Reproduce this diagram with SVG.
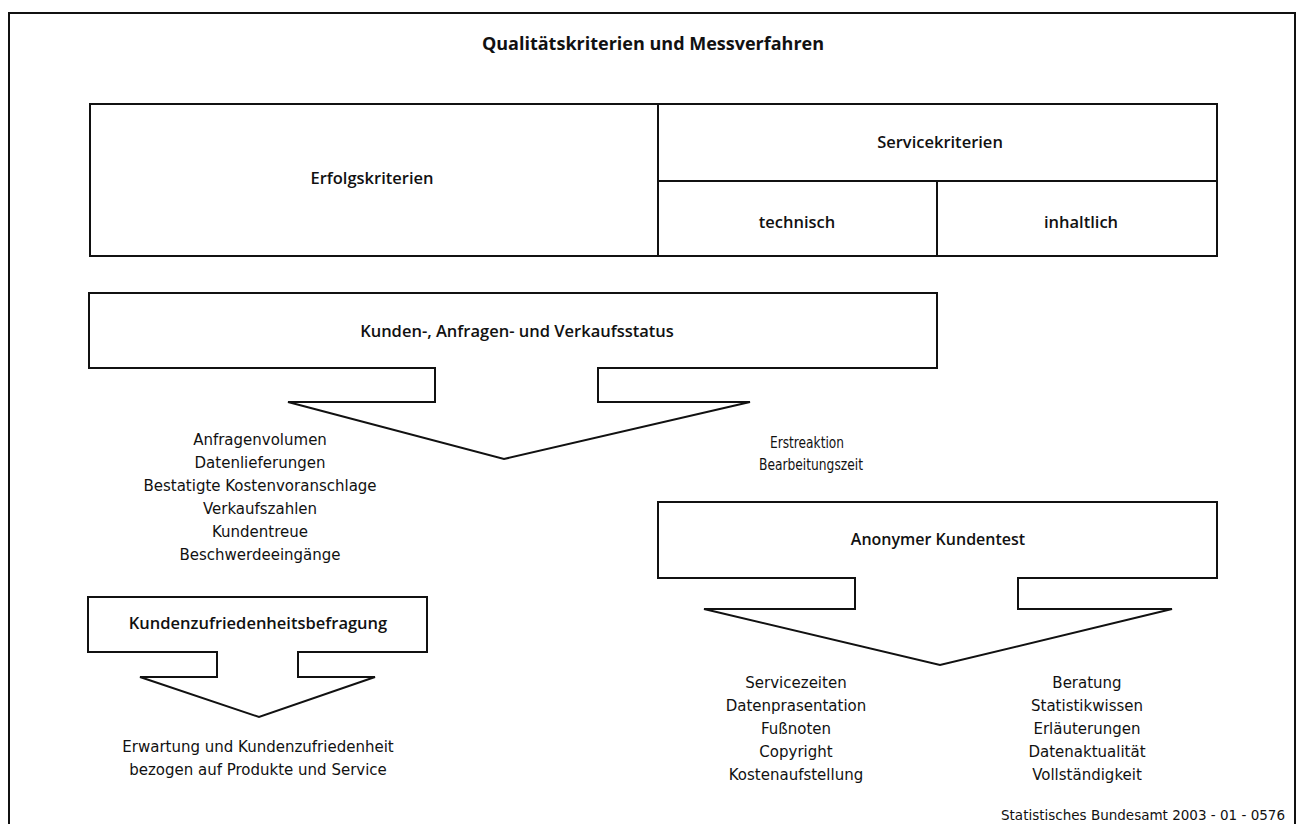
<svg xmlns="http://www.w3.org/2000/svg" width="1299" height="824" viewBox="0 0 1299 824">
<style>
text{fill:#111;text-anchor:middle}
.t{font-family:"Open Sans","Liberation Sans",sans-serif;font-size:18px;font-weight:700}
.h{font-family:"Open Sans","Liberation Sans",sans-serif;font-size:16.5px;font-weight:600}
.r{font-family:"DejaVu Sans","Liberation Sans",sans-serif;font-size:15px}
.f{font-family:"DejaVu Sans","Liberation Sans",sans-serif;font-size:13.5px;text-anchor:end}
.ln{fill:none;stroke:#111;stroke-width:2;stroke-linejoin:miter}
</style>
<rect width="1299" height="824" fill="#fff"/>
<path class="ln" d="M9,824 V13 H1295 V824"/>
<text class="t" x="653" y="50">Qualitätskriterien und Messverfahren</text>
<g id="table">
<rect class="ln" x="90" y="104" width="1127" height="152"/>
<path class="ln" d="M658,104 V256 M658,181 H1217 M937,181 V256"/>
<text class="h" x="372" y="184">Erfolgskriterien</text>
<text class="h" x="940" y="148">Servicekriterien</text>
<text class="h" x="797" y="228">technisch</text>
<text class="h" x="1081" y="228">inhaltlich</text>
</g>
<g id="arrow-status">
<path class="ln" d="M89,293 H937 V368 H598 V402 H750 L504,459 L288,402 H435 V368 H89 Z"/>
<text class="h" x="517" y="337">Kunden-, Anfragen- und Verkaufsstatus</text>
</g>
<g id="list-status">
<text class="r" x="260" y="445">Anfragenvolumen</text>
<text class="r" x="260" y="468">Datenlieferungen</text>
<text class="r" x="260" y="491">Bestatigte Kostenvoranschlage</text>
<text class="r" x="260" y="514">Verkaufszahlen</text>
<text class="r" x="260" y="537">Kundentreue</text>
<text class="r" x="260" y="560">Beschwerdeeingänge</text>
</g>
<g id="list-tech">
<text class="r" x="770" y="448" style="text-anchor:start" textLength="74" lengthAdjust="spacingAndGlyphs">Erstreaktion</text>
<text class="r" x="759" y="470" style="text-anchor:start" textLength="104" lengthAdjust="spacingAndGlyphs">Bearbeitungszeit</text>
</g>
<g id="arrow-test">
<path class="ln" d="M658,502 H1217 V578 H1018 V609 H1172 L940,665 L704,609 H855 V578 H658 Z"/>
<text class="h" x="938" y="545" style="font-size:16px">Anonymer Kundentest</text>
</g>
<g id="arrow-befragung">
<path class="ln" d="M88,597 H427 V652 H298 V677 H375 L259,717 L140,677 H217 V652 H88 Z"/>
<text class="h" x="258" y="629">Kundenzufriedenheitsbefragung</text>
</g>
<g id="list-befragung">
<text class="r" x="258" y="752">Erwartung und Kundenzufriedenheit</text>
<text class="r" x="258" y="775">bezogen auf Produkte und Service</text>
</g>
<g id="list-test-tech">
<text class="r" x="796" y="688">Servicezeiten</text>
<text class="r" x="796" y="711">Datenprasentation</text>
<text class="r" x="796" y="734">Fußnoten</text>
<text class="r" x="796" y="757">Copyright</text>
<text class="r" x="796" y="780">Kostenaufstellung</text>
</g>
<g id="list-test-inhalt">
<text class="r" x="1087" y="688">Beratung</text>
<text class="r" x="1087" y="711">Statistikwissen</text>
<text class="r" x="1087" y="734">Erläuterungen</text>
<text class="r" x="1087" y="757">Datenaktualität</text>
<text class="r" x="1087" y="780">Vollständigkeit</text>
</g>
<text class="f" x="1285" y="820">Statistisches Bundesamt  2003 - 01 - 0576</text>
</svg>
